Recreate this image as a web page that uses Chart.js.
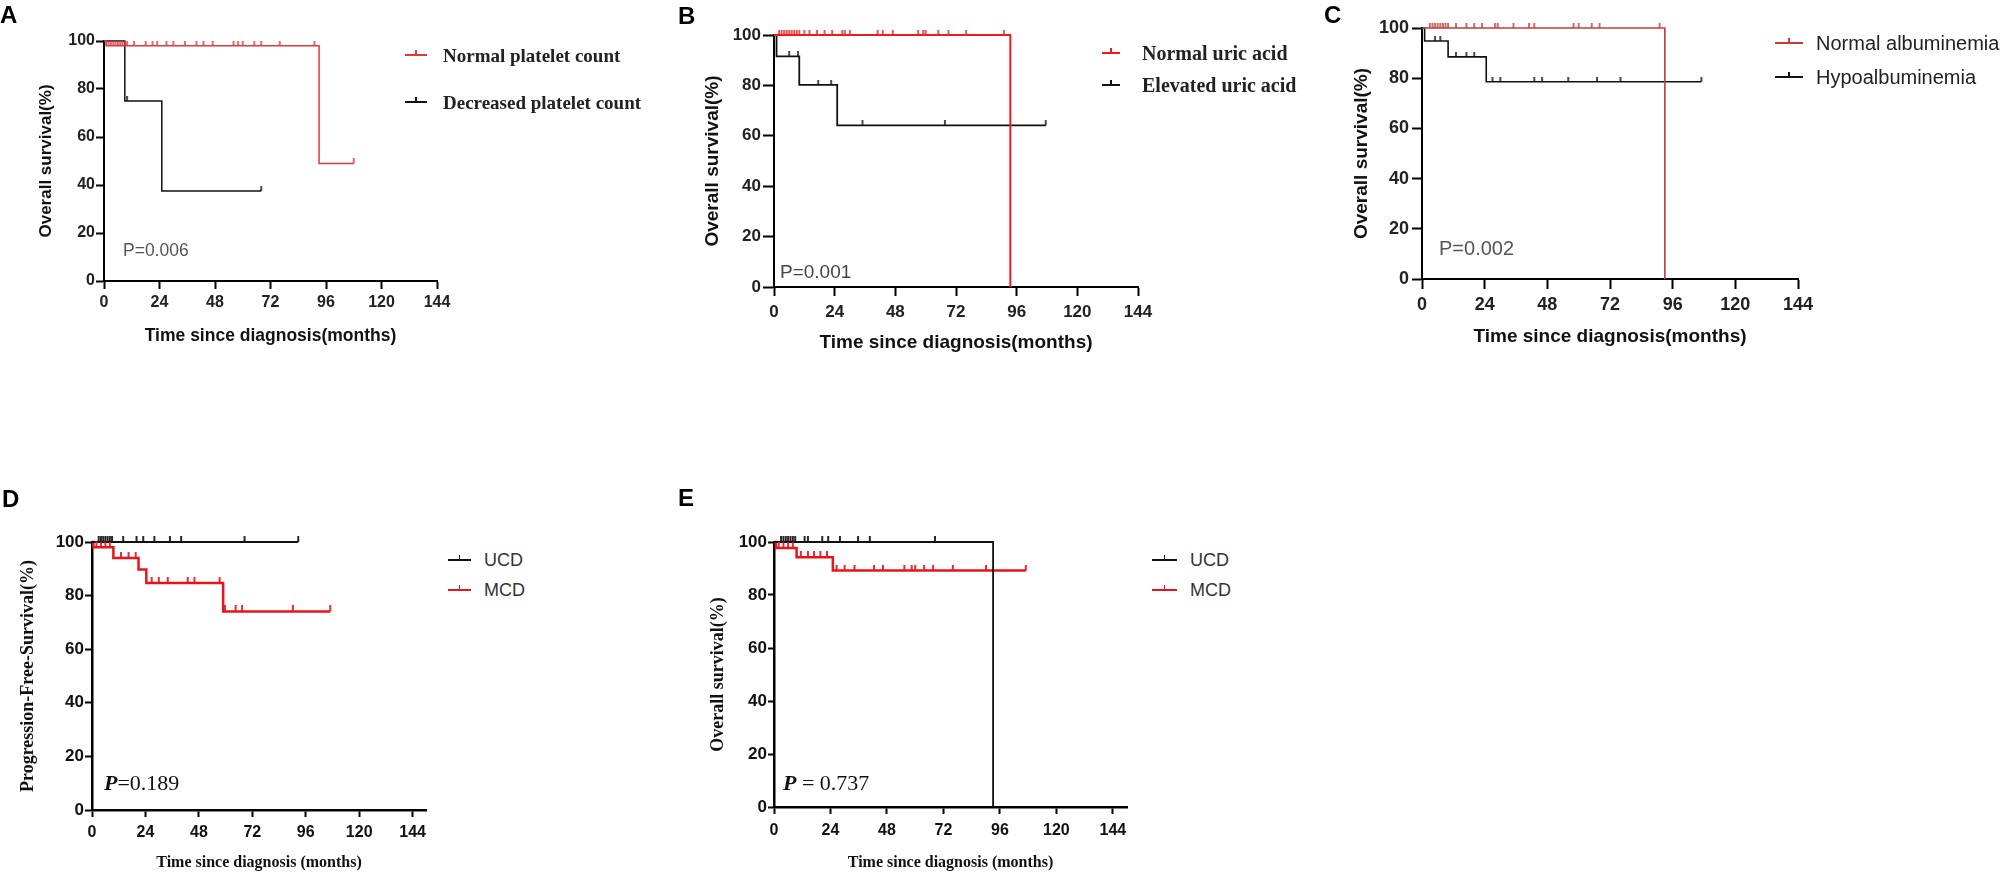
<!DOCTYPE html>
<html>
<head>
<meta charset="utf-8">
<script src="https://cdn.jsdelivr.net/npm/chart.js@4.4.1/dist/chart.umd.min.js"></script>
<style>
  body { margin: 0; width: 2008px; height: 875px; background: #fff; position: relative; overflow: hidden; }
  canvas { position: absolute; }
</style>
</head>
<body>
<script>
// shared axis ticks
const xTicks = [0, 24, 48, 72, 96, 120, 144];
const yTicks = [0, 20, 40, 60, 80, 100];

// A: platelet count
const aNormalTimes = [0, 1, 93, 108];
const aNormalSurv = [100, 98, 49, 49];
const aNormalCensor = [1, 2, 3, 4, 5, 6, 7, 8, 9, 10, 13, 18, 21, 23, 27, 30, 35, 40, 43, 47, 56, 58, 60, 65, 68, 76, 91, 108];
const aDecreasedTimes = [0, 9, 25, 68];
const aDecreasedSurv = [100, 75, 37.5, 37.5];
const aDecreasedCensor = [10, 68];

// B: uric acid
const bNormalTimes = [0, 93.5];
const bNormalSurv = [100, 0];
const bNormalCensor = [2, 3, 4, 5, 6, 7, 8, 9, 10, 12, 14, 17, 20, 23, 27, 28, 30, 41, 43, 47, 57, 59, 60, 65, 69, 76, 91];
const bElevatedTimes = [0, 1, 10, 25, 107.5];
const bElevatedSurv = [100, 91.5, 80.2, 64.1, 64.1];
const bElevatedCensor = [6, 9.5, 17.5, 22.6, 35, 67.6, 107.5];

// C: albumin
const cNormalTimes = [0, 93];
const cNormalSurv = [100, 0];
const cNormalCensor = [3, 4, 5, 6, 7, 8, 9, 10, 13, 17, 20, 23, 28, 29, 35, 41, 43, 58, 60, 65, 68, 91];
const cHypoTimes = [0, 1, 10, 24.6, 107];
const cHypoSurv = [100, 94.8, 88.5, 78.6, 78.6];
const cHypoCensor = [5, 7, 13, 17, 20, 27, 30, 43, 46, 56, 67, 76, 107];

// D: progression-free survival
const dUcdTimes = [0, 92.6];
const dUcdSurv = [100, 100];
const dUcdCensor = [3, 4, 5, 6, 7, 8, 9, 14, 20, 23, 28, 35, 40, 68.5, 92.6];
const dMcdTimes = [0, 0.6, 9.6, 20.9, 24.4, 58.9, 107];
const dMcdSurv = [100, 98, 94, 89.7, 84.7, 74.1, 74.1];
const dMcdCensor = [2, 4, 6, 8, 13, 16.4, 19.6, 26.8, 30, 34, 43, 46, 57.3, 59.7, 64.5, 67.4, 90.2, 107];

// E: overall survival
const eUcdTimes = [0, 93.1];
const eUcdSurv = [100, 0];
const eUcdCensor = [3, 4, 5, 6, 7, 8, 9, 13, 14.4, 20.5, 23, 28, 35.7, 40.7, 68.4];
const eMcdTimes = [0, 0.8, 9.6, 25, 107];
const eMcdSurv = [100, 97.7, 94.2, 89.2, 89.2];
const eMcdCensor = [2, 4, 6, 8, 11.4, 14.4, 17, 19.7, 22.5, 26.6, 30, 34.2, 42.5, 46.3, 55.4, 58.5, 60, 63.8, 67.6, 76, 90.1, 107];

const SANS = "'Liberation Sans', Arial, sans-serif";
const SERIF = "'Liberation Serif', 'Times New Roman', serif";

// survival value in force at time t (for placing censor marks on the curve)
function survAt(times, surv, t) {
  let v = surv[0];
  for (let i = 0; i < times.length; i++) if (times[i] <= t) v = surv[i];
  return v;
}

// small upward tick used as censor mark
function tickImage(color, w, up) {
  const c = document.createElement('canvas');
  c.width = 4;
  c.height = up * 2 + 2;
  const g = c.getContext('2d');
  g.fillStyle = color;
  g.fillRect(2 - w / 2, 0, w, up + 1);
  return c;
}

function makeChart(p) {
  const cv = document.createElement('canvas');
  cv.width = p.box[2];
  cv.height = p.box[3];
  cv.style.left = p.box[0] + 'px';
  cv.style.top = p.box[1] + 'px';
  cv.style.width = p.box[2] + 'px';
  cv.style.height = p.box[3] + 'px';
  document.body.appendChild(cv);

  const datasets = [];
  p.series.forEach(s => {
    datasets.push({
      data: s.times.map((t, i) => ({ x: t, y: s.surv[i] })),
      stepped: 'before', borderColor: s.color, borderWidth: s.width,
      pointRadius: 0, fill: false, clip: 10, order: 2
    });
  });
  p.series.forEach(s => {
    datasets.push({
      data: s.censor.map(t => ({ x: t, y: survAt(s.times, s.surv, t) })),
      showLine: false, pointStyle: tickImage(s.color, s.tickW, s.tickUp),
      pointRadius: 3, clip: 12, order: 1
    });
  });

  new Chart(cv, {
    type: 'line',
    data: { datasets },
    options: {
      responsive: false,
      animation: false,
      events: [],
      layout: { padding: p.pad },
      plugins: { legend: { display: false }, tooltip: { enabled: false } },
      scales: {
        x: {
          type: 'linear', min: 0, max: p.xMax,
          afterBuildTicks: s => { s.ticks = xTicks.map(v => ({ value: v })); },
          afterFit: s => { s.height = p.xHeight; },
          border: { display: true, color: '#000', width: p.axisW },
          grid: { display: true, drawOnChartArea: false, drawTicks: true, tickLength: p.xTickLen, tickWidth: p.tickW, tickColor: '#000' },
          ticks: { color: p.tickColor, font: p.xTickFont, padding: p.xTickPad, maxRotation: 0, autoSkip: false },
          title: { display: true, text: p.xTitle, color: '#111', font: p.xTitleFont, padding: 0 }
        },
        y: {
          type: 'linear', min: 0, max: 100,
          afterBuildTicks: s => { s.ticks = yTicks.map(v => ({ value: v })); },
          afterFit: s => { s.width = p.yWidth; },
          border: { display: true, color: '#000', width: p.axisW },
          grid: { display: true, drawOnChartArea: false, drawTicks: true, tickLength: p.yTickLen, tickWidth: p.tickW, tickColor: '#000' },
          ticks: { color: p.tickColor, font: p.yTickFont, padding: p.yTickPad },
          title: { display: true, text: p.yTitle, color: '#111', font: p.yTitleFont, padding: { top: p.yTitlePad, bottom: 0 } }
        }
      }
    }
  });
}

function addText(html, left, cy, font, color) {
  const d = document.createElement('div');
  d.innerHTML = html;
  d.style.cssText = `position:absolute;left:${left}px;top:${cy}px;transform:translateY(-50%);font:${font};color:${color};white-space:nowrap;line-height:1`;
  document.body.appendChild(d);
}

function addSample(left, cy, width, color, thick) {
  const d = document.createElement('div');
  d.style.cssText = `position:absolute;left:${left}px;top:${cy - thick / 2}px;width:${width}px;height:${thick}px;background:${color}`;
  const t = document.createElement('div');
  t.style.cssText = `position:absolute;left:${width / 2 - 0.75}px;top:-4px;width:1.5px;height:4px;background:${color}`;
  d.appendChild(t);
  document.body.appendChild(d);
}

const RED_A = '#e0393e', RED_B = '#f01c1c', RED_C = '#c43c39', RED_D = '#e8141c', BLACK = '#111';

makeChart({
  box: [0, 0, 462, 351], pad: { left: 0, top: 41, right: 25, bottom: 4 },
  yWidth: 104, xHeight: 66, xMax: 144, axisW: 2, tickW: 2, xTickLen: 8, yTickLen: 8,
  tickColor: '#222', xTickFont: { family: SANS, size: 16, weight: 'bold' }, xTickPad: 4,
  yTickFont: { family: SANS, size: 16, weight: 'bold' }, yTickPad: 1,
  xTitle: 'Time since diagnosis(months)', xTitleFont: { family: SANS, size: 17.5, weight: 'bold' },
  yTitle: 'Overall survival(%)', yTitleFont: { family: SANS, size: 17, weight: 'bold' }, yTitlePad: 36,
  series: [
    { times: aNormalTimes, surv: aNormalSurv, censor: aNormalCensor, color: RED_A, width: 1.5, tickW: 1.5, tickUp: 4 },
    { times: aDecreasedTimes, surv: aDecreasedSurv, censor: aDecreasedCensor, color: BLACK, width: 1.5, tickW: 1.5, tickUp: 4 }
  ]
});

makeChart({
  box: [640, 0, 523, 358], pad: { left: 0, top: 35, right: 25, bottom: 4 },
  yWidth: 134, xHeight: 67, xMax: 144, axisW: 2, tickW: 2, xTickLen: 9, yTickLen: 11,
  tickColor: '#222', xTickFont: { family: SANS, size: 17, weight: 'bold' }, xTickPad: 6,
  yTickFont: { family: SANS, size: 17, weight: 'bold' }, yTickPad: 2,
  xTitle: 'Time since diagnosis(months)', xTitleFont: { family: SANS, size: 19, weight: 'bold' },
  yTitle: 'Overall survival(%)', yTitleFont: { family: SANS, size: 19, weight: 'bold' }, yTitlePad: 61,
  series: [
    { times: bNormalTimes, surv: bNormalSurv, censor: bNormalCensor, color: RED_B, width: 2, tickW: 1.5, tickUp: 4 },
    { times: bElevatedTimes, surv: bElevatedSurv, censor: bElevatedCensor, color: BLACK, width: 1.8, tickW: 1.5, tickUp: 4 }
  ]
});

makeChart({
  box: [1300, 0, 523, 352], pad: { left: 0, top: 28, right: 25, bottom: 4 },
  yWidth: 122, xHeight: 69, xMax: 144, axisW: 2, tickW: 2, xTickLen: 10, yTickLen: 10,
  tickColor: '#222', xTickFont: { family: SANS, size: 18, weight: 'bold' }, xTickPad: 5,
  yTickFont: { family: SANS, size: 18, weight: 'bold' }, yTickPad: 3,
  xTitle: 'Time since diagnosis(months)', xTitleFont: { family: SANS, size: 19, weight: 'bold' },
  yTitle: 'Overall survival(%)', yTitleFont: { family: SANS, size: 19, weight: 'bold' }, yTitlePad: 50,
  series: [
    { times: cNormalTimes, surv: cNormalSurv, censor: cNormalCensor, color: RED_C, width: 1.6, tickW: 1.5, tickUp: 4 },
    { times: cHypoTimes, surv: cHypoSurv, censor: cHypoCensor, color: BLACK, width: 1.6, tickW: 1.5, tickUp: 4 }
  ]
});

makeChart({
  box: [0, 480, 446, 396], pad: { left: 0, top: 62, right: 20, bottom: 4 },
  yWidth: 92, xHeight: 62, xMax: 150, axisW: 2.5, tickW: 2, xTickLen: 7, yTickLen: 7,
  tickColor: '#111', xTickFont: { family: SANS, size: 16, weight: 'bold' }, xTickPad: 6,
  yTickFont: { family: SANS, size: 17, weight: 'bold' }, yTickPad: 1,
  xTitle: 'Time since diagnosis (months)', xTitleFont: { family: SERIF, size: 16, weight: 'bold' },
  yTitle: 'Progression-Free-Survival(%)', yTitleFont: { family: SERIF, size: 18, weight: 'bold' }, yTitlePad: 18,
  series: [
    { times: dUcdTimes, surv: dUcdSurv, censor: dUcdCensor, color: BLACK, width: 1.8, tickW: 1.8, tickUp: 5 },
    { times: dMcdTimes, surv: dMcdSurv, censor: dMcdCensor, color: RED_D, width: 2.5, tickW: 1.8, tickUp: 5 }
  ]
});

makeChart({
  box: [660, 480, 487, 396], pad: { left: 0, top: 62, right: 20, bottom: 4 },
  yWidth: 114, xHeight: 65, xMax: 150, axisW: 2.5, tickW: 2, xTickLen: 7, yTickLen: 6,
  tickColor: '#111', xTickFont: { family: SANS, size: 16, weight: 'bold' }, xTickPad: 7,
  yTickFont: { family: SANS, size: 17, weight: 'bold' }, yTickPad: 1,
  xTitle: 'Time since diagnosis (months)', xTitleFont: { family: SERIF, size: 16, weight: 'bold' },
  yTitle: 'Overall survival(%)', yTitleFont: { family: SERIF, size: 18, weight: 'bold' }, yTitlePad: 48,
  series: [
    { times: eUcdTimes, surv: eUcdSurv, censor: eUcdCensor, color: BLACK, width: 1.8, tickW: 1.8, tickUp: 5 },
    { times: eMcdTimes, surv: eMcdSurv, censor: eMcdCensor, color: RED_D, width: 2.5, tickW: 1.8, tickUp: 5 }
  ]
});

// panel letters
const LETTER = `bold 24px ${SANS}`;
addText('A', 0, 15, LETTER, '#000');
addText('B', 678, 16, LETTER, '#000');
addText('C', 1324, 15, LETTER, '#000');
addText('D', 2, 499, LETTER, '#000');
addText('E', 678, 498, LETTER, '#000');

// legends
addSample(405, 55, 22, RED_A, 1.5);
addText('Normal platelet count', 443, 55, `bold 19px ${SERIF}`, '#222');
addSample(405, 102, 22, BLACK, 1.5);
addText('Decreased platelet count', 443, 102, `bold 19px ${SERIF}`, '#222');

addSample(1102, 53, 18, RED_B, 2);
addText('Normal uric acid', 1142, 53, `bold 20px ${SERIF}`, '#222');
addSample(1102, 85, 18, BLACK, 1.5);
addText('Elevated uric acid', 1142, 85, `bold 20px ${SERIF}`, '#222');

addSample(1775, 43, 28, RED_C, 2);
addText('Normal albuminemia', 1816, 43, `20px ${SANS}`, '#222');
addSample(1775, 77, 28, BLACK, 2);
addText('Hypoalbuminemia', 1816, 77, `20px ${SANS}`, '#222');

addSample(448, 560, 23, BLACK, 2.5);
addText('UCD', 484, 560, `18px ${SANS}`, '#333');
addSample(448, 590, 23, RED_D, 2.5);
addText('MCD', 484, 590, `18px ${SANS}`, '#333');

addSample(1152, 560, 25, BLACK, 2.5);
addText('UCD', 1190, 560, `18px ${SANS}`, '#333');
addSample(1152, 590, 25, RED_D, 2.5);
addText('MCD', 1190, 590, `18px ${SANS}`, '#333');

// log-rank p values
addText('P=0.006', 123, 251, `17.5px ${SANS}`, '#555');
addText('P=0.001', 780, 271, `19px ${SANS}`, '#444');
addText('P=0.002', 1439, 248, `20px ${SANS}`, '#555');
addText('<b><i>P</i></b>=0.189', 104, 783, `22px ${SERIF}`, '#111');
addText('<b><i>P</i></b> = 0.737', 783, 783, `22px ${SERIF}`, '#111');
</script>
</body>
</html>
